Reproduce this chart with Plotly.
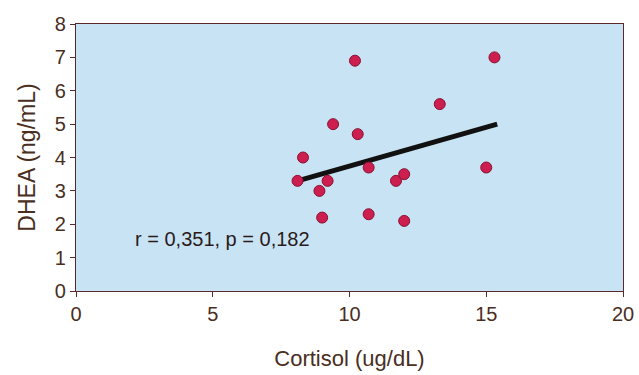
import plotly.graph_objects as go

# Data
cortisol = [8.1, 8.3, 8.9, 9.2, 9.0, 9.4, 10.2, 10.3, 10.7, 10.7, 11.7, 12.0, 12.0, 13.3, 15.0, 15.3]
dhea = [3.3, 4.0, 3.0, 3.3, 2.2, 5.0, 6.9, 4.7, 3.7, 2.3, 3.3, 3.5, 2.1, 5.6, 3.7, 7.0]
fit_x = [8.1, 15.4]
fit_y = [3.3, 5.0]
x_ticks = [0, 5, 10, 15, 20]
y_ticks = [0, 1, 2, 3, 4, 5, 6, 7, 8]
stat_text = "r = 0,351, p = 0,182"
stat_pos = (2.08, 1.56)

font_family = "Liberation Sans, Arial, sans-serif"
font_color = "#4a2e1e"
axis_color = "#5a2a2a"

fig = go.Figure()
fig.add_trace(go.Scatter(
    x=fit_x, y=fit_y, mode="lines",
    line=dict(color="#111111", width=5),
    hoverinfo="skip", showlegend=False,
))
fig.add_trace(go.Scatter(
    x=cortisol, y=dhea, mode="markers",
    marker=dict(size=11, color="#cc1f4f", line=dict(color="#8a1030", width=1)),
    showlegend=False,
))

fig.add_annotation(
    x=stat_pos[0], y=stat_pos[1], xref="x", yref="y",
    xanchor="left", yanchor="middle",
    text=stat_text, showarrow=False,
    font=dict(family=font_family, size=20, color="#2a1a1a"),
)

fig.update_layout(
    width=639, height=375,
    margin=dict(l=76, r=16, t=24, b=84, autoexpand=False),
    paper_bgcolor="white",
    plot_bgcolor="#c8e4f4",
    font=dict(family=font_family, size=20, color=font_color),
)
fig.update_xaxes(
    range=[0, 20], tickvals=x_ticks, ticks="outside", ticklen=5, tickcolor=axis_color,
    showgrid=False, zeroline=False, showline=True, linecolor=axis_color, linewidth=1.2,
    mirror=True, automargin=False,
    title=dict(text="Cortisol (ug/dL)", font=dict(size=22, color=font_color), standoff=26),
    tickfont=dict(size=20, color=font_color),
)
fig.update_yaxes(
    range=[0, 8], tickvals=y_ticks, ticks="outside", ticklen=5, tickcolor=axis_color,
    showgrid=False, zeroline=False, showline=True, linecolor=axis_color, linewidth=1.2,
    mirror=True, automargin=False,
    title=dict(text="DHEA (ng/mL)", font=dict(size=23, color=font_color), standoff=12),
    tickfont=dict(size=20, color=font_color),
)

fig.write_html("out.html")
